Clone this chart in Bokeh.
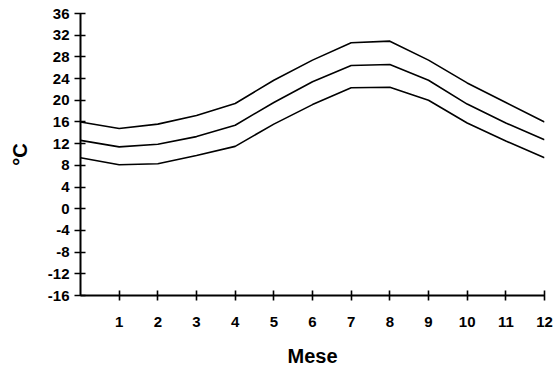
from bokeh.plotting import figure
from bokeh.models import FixedTicker, Range1d
from bokeh.embed import file_html
from bokeh.resources import INLINE

months = [0, 1, 2, 3, 4, 5, 6, 7, 8, 9, 10, 11, 12]
t_max = [16.0, 14.8, 15.6, 17.2, 19.4, 23.7, 27.4, 30.6, 30.9, 27.4, 23.2, 19.6, 16.0]
t_mean = [12.6, 11.4, 11.9, 13.3, 15.4, 19.6, 23.4, 26.4, 26.6, 23.7, 19.3, 15.8, 12.7]
t_min = [9.4, 8.1, 8.3, 9.8, 11.5, 15.6, 19.2, 22.3, 22.4, 20.0, 15.8, 12.5, 9.4]
x_ticks = [1, 2, 3, 4, 5, 6, 7, 8, 9, 10, 11, 12]
y_ticks = [-16, -12, -8, -4, 0, 4, 8, 12, 16, 20, 24, 28, 32, 36]

FONT = "Liberation Sans"

p = figure(width=553, height=369, output_backend="svg", toolbar_location=None,
           x_range=Range1d(0, 12), y_range=Range1d(-16, 36),
           min_border_left=80, min_border_right=9, min_border_top=13, min_border_bottom=74)
p.outline_line_color = None
p.xgrid.visible = False
p.ygrid.visible = False
p.background_fill_color = "white"

for series in (t_max, t_mean, t_min):
    p.line(months, series, line_color="black", line_width=1.6)

for ax in (p.xaxis[0], p.yaxis[0]):
    ax.axis_line_color = "black"
    ax.axis_line_width = 2
    ax.major_tick_line_color = "black"
    ax.major_tick_line_width = 1.6
    ax.minor_tick_line_color = None
    ax.major_label_text_font = FONT
    ax.major_label_text_font_style = "bold"
    ax.major_label_text_font_size = "15px"
    ax.major_label_text_color = "black"
    ax.axis_label_text_font = FONT
    ax.axis_label_text_font_style = "bold"
    ax.axis_label_text_font_size = "20px"
    ax.axis_label_text_color = "black"

p.xaxis.ticker = FixedTicker(ticks=x_ticks)
p.xaxis.major_tick_in = 5
p.xaxis.major_tick_out = 5
p.xaxis.major_label_standoff = 16
p.xaxis.axis_label = "Mese"
p.xaxis.axis_label_standoff = 15

p.yaxis.ticker = FixedTicker(ticks=y_ticks)
p.yaxis.major_label_overrides = {t: str(t) for t in y_ticks}
p.yaxis.major_tick_in = 5
p.yaxis.major_tick_out = 6
p.yaxis.major_label_standoff = 5
p.yaxis.axis_label = "°C"
p.yaxis.axis_label_standoff = 14

open("out.html", "w").write(file_html(p, INLINE))
